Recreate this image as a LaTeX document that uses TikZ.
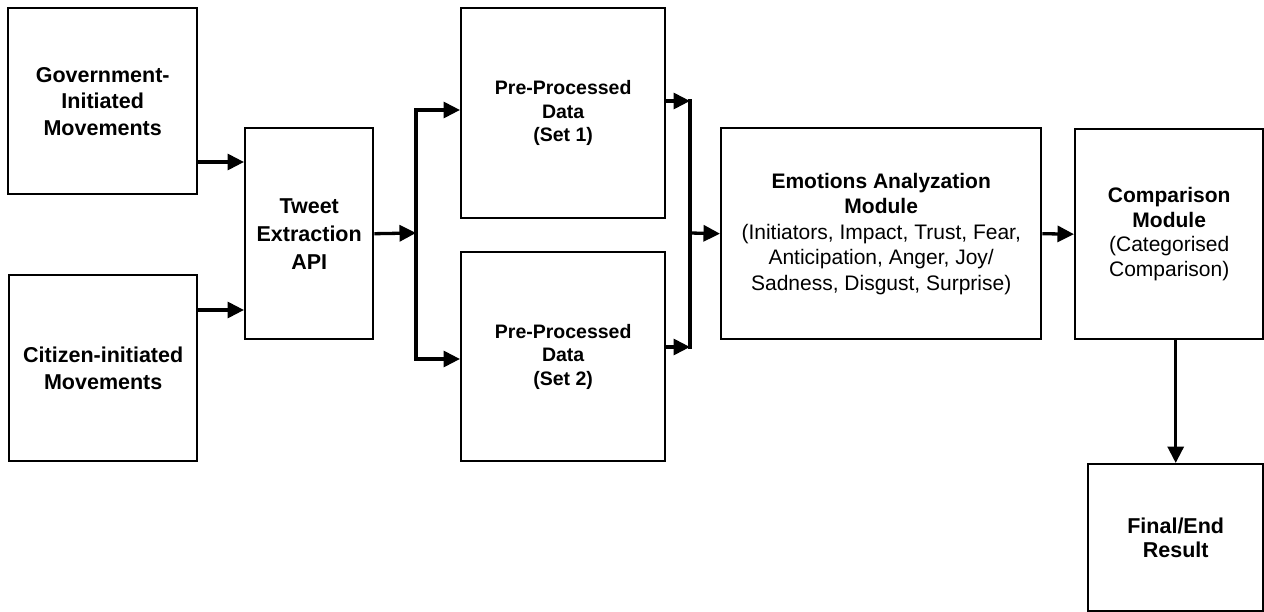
\documentclass[tikz,border=0pt]{standalone}
\usepackage{fontspec}
\setmainfont{Liberation Sans}
\usetikzlibrary{arrows.meta}
\begin{document}
\begin{tikzpicture}[x=1pt,y=-1pt,
  box/.style={draw, line width=2.4pt, anchor=north west, inner sep=0pt, align=center},
  bf/.style={font=\bfseries\fontsize{21.5}{#1}\selectfont},
  rg/.style={font=\fontsize{21}{#1}\selectfont},
  tip/.tip={Triangle[length=16.5pt,width=16pt]},
  conn/.style={line width=3.3pt, -tip},
  ln/.style={line width=3.3pt}]
\useasboundingbox (0,0) rectangle (1264,612);
\fill[white] (0,0) rectangle (1264,612);
% boxes
\node[box, bf=26.5, minimum width=189pt, minimum height=186pt] (gov) at (7,7) {Government-\\Initiated\\Movements};
\node[box, bf=26.5, minimum width=188pt, minimum height=186pt] (cit) at (8,274) {Citizen-initiated\\Movements};
\node[box, bf=28, minimum width=128pt, minimum height=211pt] (tweet) at (244,127) {Tweet\\Extraction\\API};
\node[box, font=\bfseries\fontsize{19.5}{23.5}\selectfont, minimum width=204pt, minimum height=210pt] (pre1) at (460,7) {Pre-Processed\\Data\\(Set 1)};
\node[box, font=\bfseries\fontsize{19.5}{23.5}\selectfont, minimum width=204pt, minimum height=209pt] (pre2) at (460,251) {Pre-Processed\\Data\\(Set 2)};
\node[box, rg=25.5, minimum width=320pt, minimum height=211pt] (emo) at (720,127) {\textbf{Emotions Analyzation}\\\textbf{Module}\\(Initiators, Impact, Trust, Fear,\\Anticipation, Anger, Joy/\\Sadness, Disgust, Surprise)};
\node[box, rg=24.5, minimum width=188pt, minimum height=210pt] (comp) at (1074,128) {\textbf{Comparison}\\\textbf{Module}\\(Categorised\\Comparison)};
\node[box, bf=24.5, minimum width=175pt, minimum height=147pt] (final) at (1087,463) {Final/End\\Result};
% bus coordinates
\coordinate (b1t) at (416,110);
\coordinate (b1m) at (416,233);
\coordinate (b1b) at (416,359);
\coordinate (b2t) at (690,101);
\coordinate (b2m) at (690,233);
\coordinate (b2b) at (690,347);
% connectors
\draw[conn] (gov.east |- 0,162) -- (tweet.west |- 0,162);
\draw[conn] (cit.east |- 0,310) -- (tweet.west |- 0,310);
\draw[conn] (tweet.east) -- (b1m);
\draw[ln, tip-tip] (pre1.west |- b1t) -- (b1t) -- (b1b) -- (pre2.west |- b1b);
\draw[conn] (pre1.east |- b2t) -- (b2t);
\draw[conn] (pre2.east |- b2b) -- (b2b);
\draw[ln, line cap=rect] (b2t) -- (b2b);
\draw[conn] (b2m) -- (emo.west);
\draw[conn] (emo.east) -- (comp.west);
\draw[conn] (comp.south -| final.north) -- (final.north);
\end{tikzpicture}
\end{document}
